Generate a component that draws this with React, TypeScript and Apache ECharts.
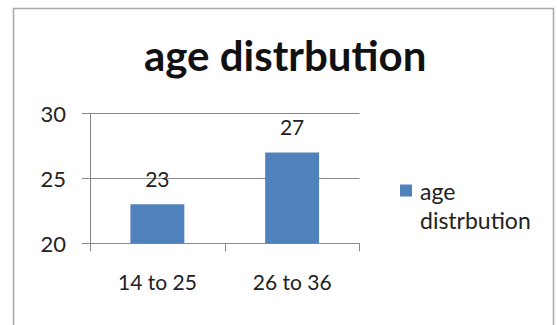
import React, { useEffect, useRef } from "react";
import * as echarts from "echarts";

const chartTitle = "age distrbution";
const categories = ["14 to 25", "26 to 36"];
const seriesName = "age distrbution";
const values = [23, 27];
const yMin = 20;
const yMax = 30;
const yInterval = 5;

const FONT = "Lato, 'Open Sans', sans-serif";

export default function App() {
  const ref = useRef<HTMLDivElement>(null);
  useEffect(() => {
    if (!ref.current) return;
    const chart = echarts.init(ref.current, undefined, { renderer: "svg" });
    chart.setOption({
      animation: false,
      backgroundColor: "#ffffff",
      title: {
        text: chartTitle,
        left: 139,
        top: 29,
        textStyle: { fontFamily: FONT, fontWeight: "bold", fontSize: 42, color: "#111" },
      },
      legend: {
        data: [seriesName],
        left: 400,
        top: 176,
        padding: 0,
        itemWidth: 12,
        itemHeight: 41,
        icon: "path://M0,0H12V12H0Z M0,41L12,41",
        formatter: () => "age\ndistrbution",
        textStyle: {
          fontFamily: FONT,
          fontSize: 23,
          color: "#222",
          lineHeight: 29,
          padding: [0, 0, 0, 3],
        },
      },
      graphic: [
        {
          type: "rect",
          shape: { x: 13.5, y: 8.5, width: 540, height: 340 },
          style: { fill: "none", stroke: "#a8a8a8", lineWidth: 1.5 },
          silent: true,
        },
      ],
      grid: { left: 90, top: 113.5, width: 269.5, height: 129.8, containLabel: false },
      xAxis: {
        type: "category",
        data: categories,
        axisLine: { show: true, lineStyle: { color: "#888", width: 1 } },
        axisTick: { show: true, length: 8, lineStyle: { color: "#888" } },
        axisLabel: { fontFamily: FONT, fontSize: 21, color: "#222", margin: 28 },
      },
      yAxis: {
        type: "value",
        min: yMin,
        max: yMax,
        interval: yInterval,
        axisLine: { show: true, lineStyle: { color: "#888", width: 1 } },
        axisTick: { show: true, length: 8, lineStyle: { color: "#888" } },
        splitLine: { show: true, lineStyle: { color: "#888", width: 1 } },
        axisLabel: { fontFamily: FONT, fontSize: 22, color: "#222", margin: 24 },
      },
      series: [
        {
          name: seriesName,
          type: "bar",
          data: values,
          barWidth: "40%",
          itemStyle: { color: "#4F81BD" },
          label: {
            show: true,
            position: "top",
            distance: 15,
            fontFamily: FONT,
            fontSize: 21,
            color: "#222",
          },
        },
      ],
    });
    return () => chart.dispose();
  }, []);
  return (
    <div
      ref={ref}
      style={{ position: "fixed", left: 0, top: 0, width: 557, height: 325 }}
    />
  );
}
